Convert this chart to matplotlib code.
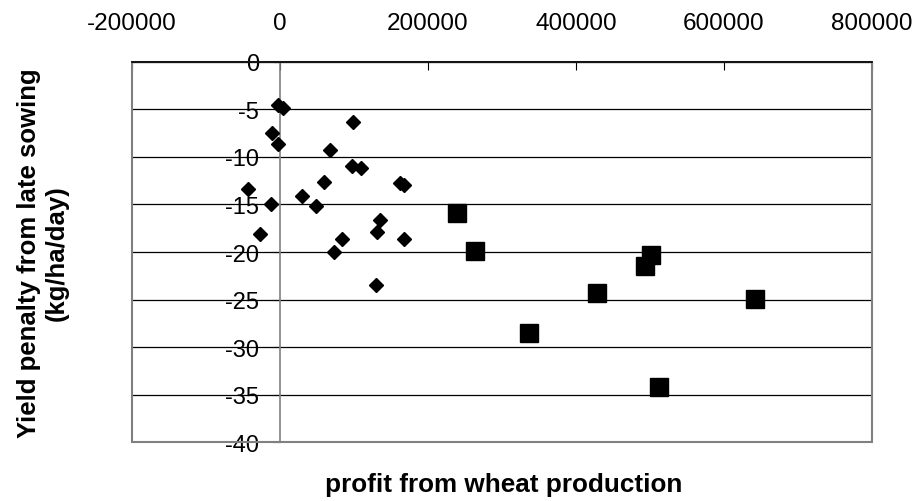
import matplotlib
matplotlib.use('Agg')
import matplotlib.pyplot as plt
from matplotlib.patches import Rectangle
from matplotlib.ticker import StrMethodFormatter

plt.rcParams['font.family'] = ['Liberation Sans', 'DejaVu Sans']
plt.rcParams['axes.unicode_minus'] = False

# small farms (diamonds)
diamond_x = [-2000, 4500, 99000, -11000, -3000, 67500, 97000, 110000, 59500,
             162000, 167500, -43000, -12000, 29500, 48500, -27000, 135000,
             132000, 167500, 84000, 73000, 129500]
diamond_y = [-4.5, -4.9, -6.3, -7.5, -8.7, -9.3, -11.0, -11.2, -12.6,
             -12.8, -13.0, -13.4, -15.0, -14.1, -15.2, -18.1, -16.6,
             -17.9, -18.6, -18.6, -20.0, -23.5]

# large farms (squares)
square_x = [239000, 264000, 336500, 428000, 493000, 501500, 642000, 512500]
square_y = [-15.9, -19.9, -28.5, -24.3, -21.5, -20.3, -24.9, -34.2]

x_ticks = [-200000, 0, 200000, 400000, 600000, 800000]
y_ticks = [0, -5, -10, -15, -20, -25, -30, -35, -40]

fig = plt.figure(figsize=(9.17, 5.02), dpi=100)
ax = fig.add_axes([0.1436, 0.1169, 0.8073, 0.7582])

ax.plot(diamond_x, diamond_y, 'D', color='black', ms=7, zorder=3)
ax.plot(square_x, square_y, 's', color='black', ms=13, zorder=3)

ax.set_xlim(-200000, 800000)
ax.set_ylim(-40, 0)
ax.set_xticks(x_ticks)
ax.set_yticks(y_ticks)
ax.xaxis.set_major_formatter(StrMethodFormatter('{x:.0f}'))
ax.yaxis.set_major_formatter(StrMethodFormatter('{x:.0f}'))

# x axis sits on top (y=0), y axis crosses at x=0
ax.xaxis.tick_top()
ax.spines['left'].set_position(('data', 0))
ax.spines['left'].set_color('#808080')
ax.spines['top'].set_color('black')
ax.spines['right'].set_color('#808080')
ax.spines['bottom'].set_color('#808080')
for s in ax.spines.values():
    s.set_linewidth(1.2)

# plot area border
ax.add_patch(Rectangle((0, 0), 1, 1, transform=ax.transAxes, fill=False,
                       edgecolor='#808080', lw=1.5, clip_on=False, zorder=1))

ax.tick_params(axis='x', direction='in', length=6, pad=20, labelsize=17.5)
ax.tick_params(axis='y', direction='out', length=5, pad=10, labelsize=17)

ax.yaxis.grid(True, color='black', lw=0.9)
ax.set_axisbelow(True)

fig.text(0.5496, 1 - 485 / 502, 'profit from wheat production', ha='center',
         va='center', fontsize=18.8, fontweight='bold')
fig.text(0.0463, 0.496, 'Yield penalty from late sowing\n(kg/ha/day)',
         rotation=90, ha='center', va='center', multialignment='center',
         fontsize=18.5, fontweight='bold')

fig.savefig('out.png', dpi=100)
